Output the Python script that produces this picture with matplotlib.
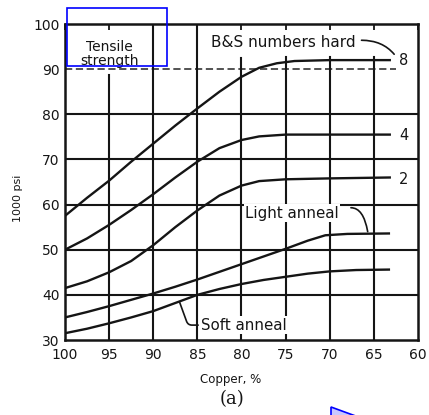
import numpy as np
import matplotlib.pyplot as plt
from matplotlib.patches import Rectangle, Polygon

# ---------------------------------------------------------------
# Data (copper %, tensile strength 1000 psi)
# ---------------------------------------------------------------
cu_8 = [100, 97.5, 95, 92.5, 90, 87.5, 85, 82.5, 80, 78, 76, 74, 70, 63.2]
ts_8 = [57.5, 61.5, 65.3, 69.5, 73.5, 77.5, 81.3, 85, 88.3, 90.3, 91.3, 91.8, 92, 92]

cu_4 = [100, 97.5, 95, 92.5, 90, 87.5, 85, 82.5, 80, 78, 75, 63.2]
ts_4 = [50, 52.5, 55.5, 58.8, 62.3, 66, 69.5, 72.5, 74.3, 75.1, 75.5, 75.5]

cu_2 = [100, 97.5, 95, 92.5, 90, 87.5, 85, 82.5, 80, 78, 75, 70, 63.2]
ts_2 = [41.5, 43, 45, 47.5, 51, 55, 58.7, 62, 64.2, 65.2, 65.6, 65.8, 66]

cu_light = [100, 97.5, 95, 92.5, 90, 87.5, 85, 82.5, 80, 77.5, 75, 72.5, 70.5, 68, 63.3]
ts_light = [35, 36.2, 37.5, 38.9, 40.3, 41.8, 43.4, 45.1, 46.8, 48.5, 50.2, 52, 53.2, 53.5, 53.6]

cu_soft = [100, 97.5, 95, 92.5, 90, 87.5, 85, 82.5, 80, 77.5, 75, 72.5, 70, 67, 63.3]
ts_soft = [31.5, 32.5, 33.7, 35, 36.4, 38.2, 40, 41.3, 42.4, 43.3, 44, 44.7, 45.2, 45.5, 45.6]

x_ticks = [100, 95, 90, 85, 80, 75, 70, 65, 60]
y_ticks = [30, 40, 50, 60, 70, 80, 90, 100]

INK = "#151515"
W, H = 429, 415

fig = plt.figure(figsize=(W / 100, H / 100), dpi=100)
ax = fig.add_axes([65 / W, 1 - 340 / H, 353 / W, 316 / H])

# grid (some lines stop short of the lettering at the top)
for yv in [40, 50, 60, 70, 80]:
    ax.axhline(yv, color=INK, lw=1.5, zorder=1)
ax.plot([100, 62.5], [90, 90], color="#444444", lw=1.3, ls=(0, (4, 2)), zorder=1)
grid_top = {95: 88.6, 90: 100, 85: 100, 80: 92.5, 75: 92.8, 70: 92.8, 65: 92.6}
for xv, top in grid_top.items():
    ax.plot([xv, xv], [30, top], color=INK, lw=1.5, zorder=1)

# curves
for cu, ts in [(cu_8, ts_8), (cu_4, ts_4), (cu_2, ts_2),
               (cu_light, ts_light), (cu_soft, ts_soft)]:
    ax.plot(cu, ts, color=INK, lw=1.7, zorder=3)

ax.set_xlim(100, 60)
ax.set_ylim(30, 100)
ax.set_xticks(x_ticks)
ax.set_yticks(y_ticks)
ax.tick_params(axis="y", length=0, labelsize=10, colors=INK, pad=4)
ax.tick_params(axis="x", bottom=False, top=True, direction="in", length=4, width=1.3,
               labelsize=10, colors=INK, pad=6)
for s in ax.spines.values():
    s.set_linewidth(1.8)
    s.set_color(INK)

box = dict(facecolor="white", edgecolor="none", pad=1)
lead = dict(arrowstyle="-", color=INK, lw=1.2, shrinkA=0, shrinkB=0)

ax.text(95.0, 93.4, "Tensile\nstrength", ha="center", va="center", fontsize=10,
        linespacing=1.05, color=INK, zorder=4)

ax.text(83.4, 95.8, "B&S numbers hard", ha="left", va="center", fontsize=11,
        color=INK, zorder=4)
ax.annotate("", xy=(62.7, 93.3), xytext=(66.4, 96.4),
            arrowprops=dict(lead, connectionstyle="angle3,angleA=0,angleB=-50"))

for lbl, yv in [("8", 92), ("4", 75.3), ("2", 65.5)]:
    ax.text(61.6, yv, lbl, ha="center", va="center", fontsize=10.5, color=INK, zorder=4)

ax.text(79.6, 58.1, "Light anneal", ha="left", va="center", fontsize=10.8,
        color=INK, bbox=box, zorder=4)
ax.annotate("", xy=(65.7, 54), xytext=(67.6, 59.3),
            arrowprops=dict(lead, connectionstyle="angle3,angleA=0,angleB=-80"))

ax.annotate("Soft anneal", xy=(87.0, 38.3), xytext=(84.6, 33.3),
            ha="left", va="center", fontsize=10.8, color=INK, bbox=box, zorder=4,
            arrowprops=dict(lead, shrinkA=1,
                            connectionstyle="angle,angleA=180,angleB=-70,rad=4"))

fig.text(18 / W, 1 - 198 / H, "1000 psi", rotation=90, ha="center", va="center",
         fontsize=8, color=INK)
fig.text(231 / W, 1 - 379 / H, "Copper, %", ha="center", va="center",
         fontsize=8.5, color=INK)
fig.text(232 / W, 1 - 399 / H, "(a)", ha="center", va="center",
         fontsize=13, family="DejaVu Serif", color=INK)

# blue overlay marks
fig.patches.append(Rectangle((67 / W, 1 - 66 / H), 100 / W, 58 / H, fill=False,
                             edgecolor="#0000ff", lw=1.2, transform=fig.transFigure))
fig.patches.append(Polygon([(331 / W, 1 - 407 / H), (372 / W, 1 - 422 / H),
                            (331 / W, 1 - 437 / H)], closed=True,
                           facecolor="#c8c8ff", edgecolor="#0000ff", lw=1.2,
                           transform=fig.transFigure))

fig.savefig("out.png", dpi=100)
